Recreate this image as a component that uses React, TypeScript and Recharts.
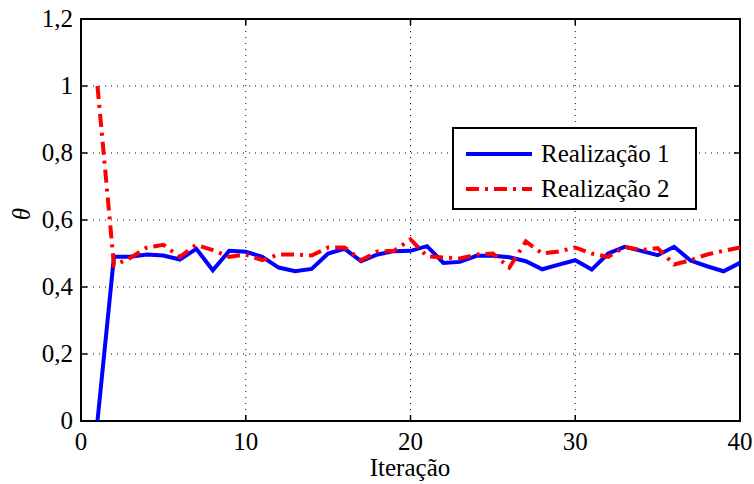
import { CartesianGrid, Line, LineChart, ReferenceArea, XAxis, YAxis } from "recharts";

const iterations = Array.from({ length: 40 }, (_, i) => i + 1);

const realizacao1 = [
  0, 0.49, 0.49, 0.497, 0.494, 0.482, 0.514, 0.45, 0.508, 0.505,
  0.49, 0.458, 0.447, 0.454, 0.5, 0.514, 0.477, 0.497, 0.507, 0.508,
  0.522, 0.472, 0.475, 0.493, 0.493, 0.489, 0.477, 0.453, 0.467, 0.48,
  0.452, 0.5, 0.52, 0.508, 0.495, 0.52, 0.479, 0.462, 0.447, 0.472,
];

const realizacao2 = [
  1.0, 0.465, 0.487, 0.518, 0.526, 0.49, 0.526, 0.51, 0.49, 0.497,
  0.48, 0.497, 0.497, 0.494, 0.518, 0.518, 0.48, 0.506, 0.508, 0.542,
  0.492, 0.488, 0.485, 0.497, 0.5, 0.458, 0.536, 0.5, 0.506, 0.518,
  0.5, 0.49, 0.52, 0.51, 0.516, 0.467, 0.48, 0.497, 0.508, 0.518,
];

const xTicks = [0, 10, 20, 30, 40];
const yTicks = [0, 0.2, 0.4, 0.6, 0.8, 1, 1.2];

const data = iterations.map((it, i) => ({
  it,
  r1: realizacao1[i],
  r2: realizacao2[i],
}));

const FONT = "'Liberation Serif', Tinos, serif";
const PLOT_TOP = 19;
const PLOT_BOTTOM = 421;
const PLOT_LEFT = 81;
const PLOT_RIGHT = 740;
const TICK_LEN = 6;

const RED_DASH = "13 6 3 6";

const fmt = (v: number) => String(Math.round(v * 10) / 10).replace(".", ",");

const css = `
  body, #root, .plot-text, .plot-text text, svg text {
    font-family: 'Liberation Serif', Tinos, serif !important;
  }
`;

function XTick(props: any) {
  const { x, payload } = props;
  return (
    <g>
      <line x1={x} x2={x} y1={PLOT_BOTTOM} y2={PLOT_BOTTOM - TICK_LEN} stroke="#000" strokeWidth={1.5} />
      <line x1={x} x2={x} y1={PLOT_TOP} y2={PLOT_TOP + TICK_LEN} stroke="#000" strokeWidth={1.5} />
      <text x={x} y={PLOT_BOTTOM + 29} textAnchor="middle" fontFamily={FONT} fontSize={25} fill="#000">
        {fmt(payload.value)}
      </text>
    </g>
  );
}

function YTick(props: any) {
  const { y, payload } = props;
  return (
    <g>
      <line x1={PLOT_LEFT} x2={PLOT_LEFT + TICK_LEN} y1={y} y2={y} stroke="#000" strokeWidth={1.5} />
      <line x1={PLOT_RIGHT} x2={PLOT_RIGHT - TICK_LEN} y1={y} y2={y} stroke="#000" strokeWidth={1.5} />
      <text x={PLOT_LEFT - 8} y={y + 8} textAnchor="end" fontFamily={FONT} fontSize={25} fill="#000">
        {fmt(payload.value)}
      </text>
    </g>
  );
}

function LegendBox() {
  const rows = [
    { name: "Realização 1", color: "#0000ff", dash: undefined },
    { name: "Realização 2", color: "#ff0000", dash: RED_DASH },
  ];
  return (
    <div
      className="plot-text"
      style={{
        position: "absolute",
        left: 452,
        top: 127,
        width: 245,
        height: 83,
        border: "2px solid #000",
        background: "#fff",
        boxSizing: "border-box",
        fontFamily: FONT,
        fontSize: 25,
        paddingTop: 7,
      }}
    >
      {rows.map((r) => (
        <div key={r.name} style={{ display: "flex", alignItems: "center", height: 35 }}>
          <svg width={76} height={10} style={{ marginLeft: 11 }}>
            <line x1={1} x2={67} y1={5} y2={5} stroke={r.color} strokeWidth={4} strokeDasharray={r.dash} />
          </svg>
          <span>{r.name}</span>
        </div>
      ))}
    </div>
  );
}

export default function App() {
  return (
    <div
      className="plot-text"
      style={{ position: "absolute", left: 0, top: 0, width: 754, height: 484, background: "#fff", fontFamily: FONT }}
    >
      <style>{css}</style>
      <LineChart
        width={754}
        height={484}
        data={data}
        margin={{ top: PLOT_TOP, right: 754 - PLOT_RIGHT, bottom: 0, left: 0 }}
      >
        <CartesianGrid stroke="#000" strokeDasharray="1 5" strokeWidth={1} />
        <XAxis
          dataKey="it"
          type="number"
          domain={[0, 40]}
          ticks={xTicks}
          height={484 - PLOT_BOTTOM}
          tick={<XTick />}
          tickLine={false}
          axisLine={false}
          label={{
            content: () => (
              <text x={410} y={476} textAnchor="middle" fontFamily={FONT} fontSize={25} fill="#000">
                Iteração
              </text>
            ),
          }}
        />
        <YAxis
          type="number"
          domain={[0, 1.2]}
          ticks={yTicks}
          width={PLOT_LEFT}
          tick={<YTick />}
          tickLine={false}
          axisLine={false}
          label={{
            content: () => (
              <text
                x={30}
                y={214}
                textAnchor="middle"
                fontFamily={FONT}
                fontSize={25}
                fontStyle="italic"
                fill="#000"
                transform="rotate(-90 30 214)"
              >
                θ
              </text>
            ),
          }}
        />
        <ReferenceArea x1={0} x2={40} y1={0} y2={1.2} fill="none" stroke="#000" strokeWidth={2} ifOverflow="visible" />
        <Line
          type="linear"
          dataKey="r1"
          name="Realização 1"
          stroke="#0000ff"
          strokeWidth={4}
          dot={false}
          isAnimationActive={false}
        />
        <Line
          type="linear"
          dataKey="r2"
          name="Realização 2"
          stroke="#ff0000"
          strokeWidth={4}
          strokeDasharray={RED_DASH}
          dot={false}
          isAnimationActive={false}
        />
      </LineChart>
      <LegendBox />
    </div>
  );
}
